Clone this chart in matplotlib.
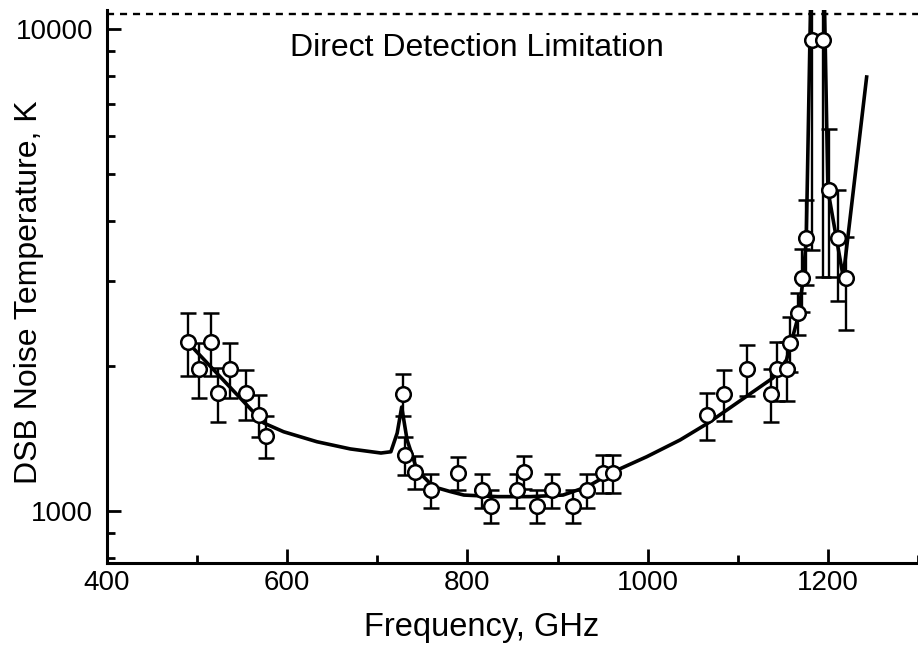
import numpy as np
import matplotlib.pyplot as plt
from matplotlib.ticker import FixedLocator, FixedFormatter, MultipleLocator, NullFormatter, LogLocator

plt.rcParams['font.family'] = ['Liberation Sans', 'DejaVu Sans']

# measured points (frequency in GHz, DSB noise temperature in K)
freq = [490, 502, 515, 523, 537, 554, 569, 576,
        729, 731, 742, 759, 789, 816, 826, 855, 863, 877, 894, 917, 933, 950, 962,
        1066, 1085, 1110, 1137, 1144, 1155, 1158, 1167, 1171, 1176, 1182, 1195, 1201, 1211, 1220]
tn = [2240, 1970, 2240, 1755, 1970, 1755, 1580, 1430,
      1750, 1305, 1205, 1105, 1200, 1105, 1025, 1105, 1205, 1025, 1105, 1025, 1105, 1200, 1200,
      1580, 1750, 1970, 1750, 1970, 1970, 2235, 2575, 3040, 3680, 9490, 9490, 4635, 3680, 3040]
# relative error bars (lower, upper)
err_lo = [0.15, 0.13, 0.15, 0.13, 0.13, 0.12, 0.10, 0.10,
          0.10, 0.09, 0.08, 0.08, 0.08, 0.08, 0.08, 0.08, 0.08, 0.08, 0.08, 0.08, 0.08, 0.09, 0.09,
          0.11, 0.12, 0.12, 0.125, 0.14, 0.14, 0.13, 0.10, 0.15, 0.20, 0.633, 0.677, 0.34, 0.26, 0.22]
err_hi = [0.15, 0.13, 0.15, 0.13, 0.13, 0.12, 0.10, 0.10,
          0.10, 0.09, 0.08, 0.08, 0.08, 0.08, 0.08, 0.08, 0.08, 0.08, 0.08, 0.08, 0.08, 0.09, 0.09,
          0.11, 0.12, 0.12, 0.125, 0.14, 0.14, 0.13, 0.10, 0.15, 0.20, 0.60, 0.60, 0.34, 0.26, 0.22]

# model curve
model_freq = [489, 574, 596, 633, 670, 704, 715, 722, 727, 733, 744, 762, 781, 796,
              833, 870, 906, 933, 962, 999, 1036, 1067, 1139, 1154, 1167, 1172, 1176,
              1182, 1195, 1200, 1217, 1243]
model_tn = [2244, 1522, 1460, 1392, 1345, 1319, 1327, 1451, 1643, 1404, 1216, 1123, 1097, 1079,
            1071, 1071, 1079, 1123, 1206, 1296, 1404, 1522, 1888, 2057, 2529, 2973, 3650,
            15000, 15000, 4635, 3059, 7950]

limit_tn = 10750

freq = np.array(freq)
tn = np.array(tn)
yerr = [tn * np.array(err_lo), tn * np.array(err_hi)]

fig = plt.figure(figsize=(9.18, 6.58), dpi=100)
ax = fig.add_axes([0.1166, 0.1444, 0.8834, 0.8404])

ax.plot(model_freq, model_tn, color='black', lw=2.6, zorder=3)
ax.errorbar(freq, tn, yerr=yerr, fmt='o', mfc='white', mec='black', mew=1.8, ms=10.5,
            ecolor='black', elinewidth=1.7, capsize=5.5, capthick=2.2, zorder=4)
ax.axhline(limit_tn, color='black', ls=(0, (3, 2.5)), lw=1.7, zorder=2)
ax.text(811, 9150, 'Direct Detection Limitation', ha='center', va='center', fontsize=23)

ax.set_yscale('log')
ax.set_xlim(400, 1300)
ax.set_ylim(780, 10950)

ax.xaxis.set_major_locator(MultipleLocator(200))
ax.xaxis.set_minor_locator(MultipleLocator(100))
ax.yaxis.set_major_locator(FixedLocator([1000, 10000]))
ax.yaxis.set_major_formatter(FixedFormatter(['1000', '10000']))
ax.yaxis.set_minor_locator(LogLocator(base=10, subs=np.arange(2, 10)))
ax.yaxis.set_minor_formatter(NullFormatter())

ax.tick_params(which='major', direction='in', length=10, width=2, labelsize=20)
ax.tick_params(which='minor', direction='in', length=6, width=2)
ax.tick_params(axis='x', which='major', pad=5)
ax.tick_params(axis='y', which='major', pad=10)

for s in ['top', 'right']:
    ax.spines[s].set_visible(False)
for s in ['left', 'bottom']:
    ax.spines[s].set_linewidth(2.2)

ax.set_xlabel('Frequency, GHz', fontsize=23.5)
ax.set_ylabel('DSB Noise Temperature, K', fontsize=23)
ax.xaxis.set_label_coords(0.462, -0.088)
ax.yaxis.set_label_coords(-0.078, 0.49)

plt.savefig('out.png', dpi=100)
